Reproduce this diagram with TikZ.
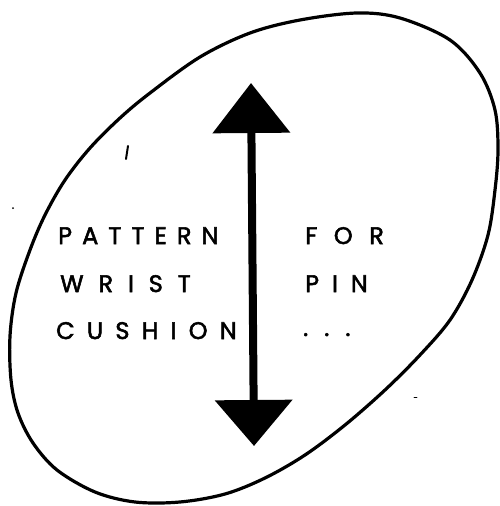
\documentclass[tikz,border=0pt]{standalone}
\usepackage{fontspec}
\newfontfamily\handfont{Poppins}[FakeBold=2.2]
\usepackage{tikz}
\usetikzlibrary{arrows.meta,positioning}

\begin{document}
\begin{tikzpicture}[x=1pt, y=-1pt, line cap=round,
    word/.style={font=\handfont\fontsize{24}{28}\selectfont, anchor=base west, inner sep=0pt},
    outline/.style={line width=3.2pt, line join=round},
    bigarrow/.style={line width=8pt, line cap=butt, {Triangle[length=50pt, width=76pt]}-{Triangle[length=46pt, width=76pt]}}]
  \useasboundingbox (0,0) rectangle (500,506);
  % the cushion outline
  \draw[outline] plot[smooth cycle, tension=0.55] coordinates {
    (357,13) (400,18) (450,40) (480,73) (495,110) (498,150) (495,190)
    (488,235) (472,280) (450,320) (420,355) (385,390) (345,425) (305,455)
    (265,478) (225,494) (180,502) (135,502) (95,492) (57,470) (33,443)
    (18,413) (11,380) (10,336) (16,293) (30,250) (45,215) (65,180)
    (90,148) (120,118) (150,93) (200,57) (250,33) (300,20)};
  % double arrow
  \coordinate (top) at (251,83);
  \coordinate (bot) at (254,446);
  \draw[bigarrow] (top) -- (bot);
  % words
  \node (pattern) [word] at (58,244) {\addfontfeature{LetterSpace=42}PATTERN};
  \node (wrist) [word] at (60,292) {\addfontfeature{LetterSpace=62}WRIST};
  \node (cushion) [word] at (56,339) {\addfontfeature{LetterSpace=51}CUSHION};
  \node (for) [word] at (305,244) {\addfontfeature{LetterSpace=69}FOR};
  \node (pin) [word] at (305,292) {\addfontfeature{LetterSpace=54}PIN};
  \node (dots) [word] at (303,336) {\addfontfeature{LetterSpace=67}...};
  % stray marks
  \coordinate (tick) at (126,159);
  \draw[line width=2pt] (tick) -- ++(2,-13);
  \coordinate (speck) at (13,208);
  \fill (speck) circle (1pt);
  \coordinate (dash) at (414,397);
  \draw[line width=0.8pt] (dash) -- ++(3,0);
\end{tikzpicture}
\end{document}
